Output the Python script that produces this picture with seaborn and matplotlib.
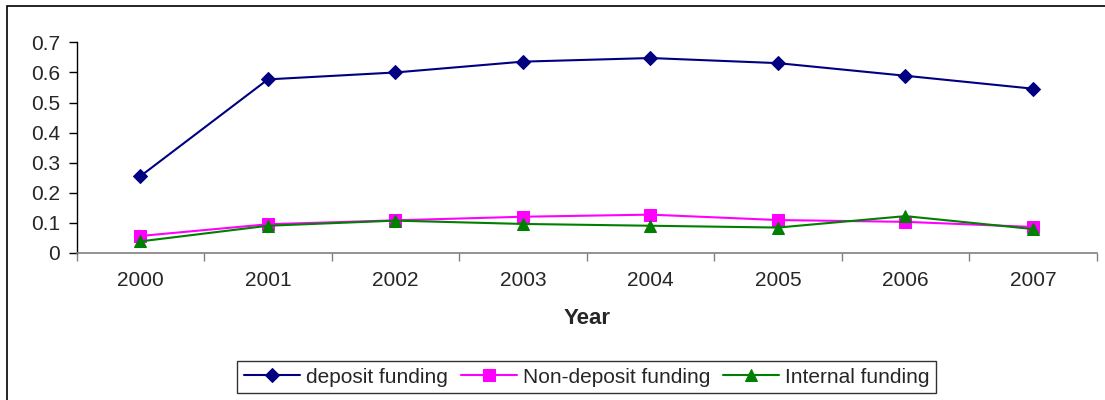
import matplotlib
matplotlib.use("Agg")
import matplotlib.pyplot as plt
from matplotlib.patches import Rectangle
from matplotlib.ticker import FixedLocator
import seaborn as sns
import pandas as pd

years = [2000, 2001, 2002, 2003, 2004, 2005, 2006, 2007]
deposit_funding = [0.255, 0.577, 0.600, 0.636, 0.648, 0.631, 0.589, 0.546]
non_deposit_funding = [0.056, 0.095, 0.108, 0.120, 0.127, 0.109, 0.103, 0.086]
internal_funding = [0.038, 0.090, 0.107, 0.096, 0.090, 0.084, 0.122, 0.079]
series_names = ["deposit funding", "Non-deposit funding", "Internal funding"]
y_ticks = [0, 0.1, 0.2, 0.3, 0.4, 0.5, 0.6, 0.7]
y_tick_labels = ["0", "0.1", "0.2", "0.3", "0.4", "0.5", "0.6", "0.7"]

df = pd.DataFrame({
    "Year": years * 3,
    "value": deposit_funding + non_deposit_funding + internal_funding,
    "series": sum([[n] * len(years) for n in series_names], []),
})

sns.set_style("white")
plt.rcParams["font.family"] = ["Liberation Sans", "DejaVu Sans"]

fig = plt.figure(figsize=(11.05, 4.0), dpi=100)
ax = fig.add_axes([0.0694, 0.368, 0.9231, 0.526])

palette = {"deposit funding": "#000080", "Non-deposit funding": "#FF00FF",
           "Internal funding": "#008000"}
markers = {"deposit funding": "D", "Non-deposit funding": "s",
           "Internal funding": "^"}
sizes = {"deposit funding": 7.5, "Non-deposit funding": 8, "Internal funding": 9}

for name in series_names:
    sub = df[df["series"] == name]
    sns.lineplot(data=sub, x="Year", y="value", ax=ax, color=palette[name],
                 marker=markers[name], markersize=sizes[name],
                 markeredgecolor=palette[name], linewidth=1.5, label=name,
                 legend=False)

ax.set_xlim(years[0] - 0.5, years[-1] + 0.5)
ax.set_ylim(0, 0.7)

ax.set_xticks(years)
ax.set_xticklabels([str(y) for y in years], fontsize=15)
ax.xaxis.set_minor_locator(FixedLocator([y - 0.5 for y in years] + [years[-1] + 0.5]))
ax.tick_params(axis="x", which="major", length=0, pad=13)
ax.tick_params(axis="x", which="minor", length=6, width=1, color="#808080",
               direction="out", bottom=True)
ax.set_yticks(y_ticks)
ax.set_yticklabels(y_tick_labels, fontsize=15)
ax.tick_params(axis="y", length=6, width=1, color="black", direction="out",
               left=True, pad=6)

for side in ["top", "right"]:
    ax.spines[side].set_visible(False)
ax.spines["left"].set_color("black")
ax.spines["left"].set_linewidth(1)
ax.spines["bottom"].set_color("#808080")
ax.spines["bottom"].set_linewidth(1.2)

ax.set_xlabel("Year", fontsize=16, fontweight="bold", labelpad=13)
ax.set_ylabel("")

handles, labels = ax.get_legend_handles_labels()
leg = fig.legend(handles, labels, loc="center", bbox_to_anchor=(0.531, 0.057),
                 ncol=3, fontsize=15, frameon=True, fancybox=False,
                 handlelength=2.7, handletextpad=0.3, columnspacing=0.6,
                 borderpad=0.3, borderaxespad=0)
leg.get_frame().set_edgecolor("black")
leg.get_frame().set_linewidth(1)

# Chart-area frame
fig.patches.append(Rectangle((7 / 1105, -0.1), 1.2, 1.1 - 6 / 400,
                             transform=fig.transFigure, fill=False,
                             edgecolor="black", linewidth=1.2))

fig.savefig("out.png", dpi=100)
